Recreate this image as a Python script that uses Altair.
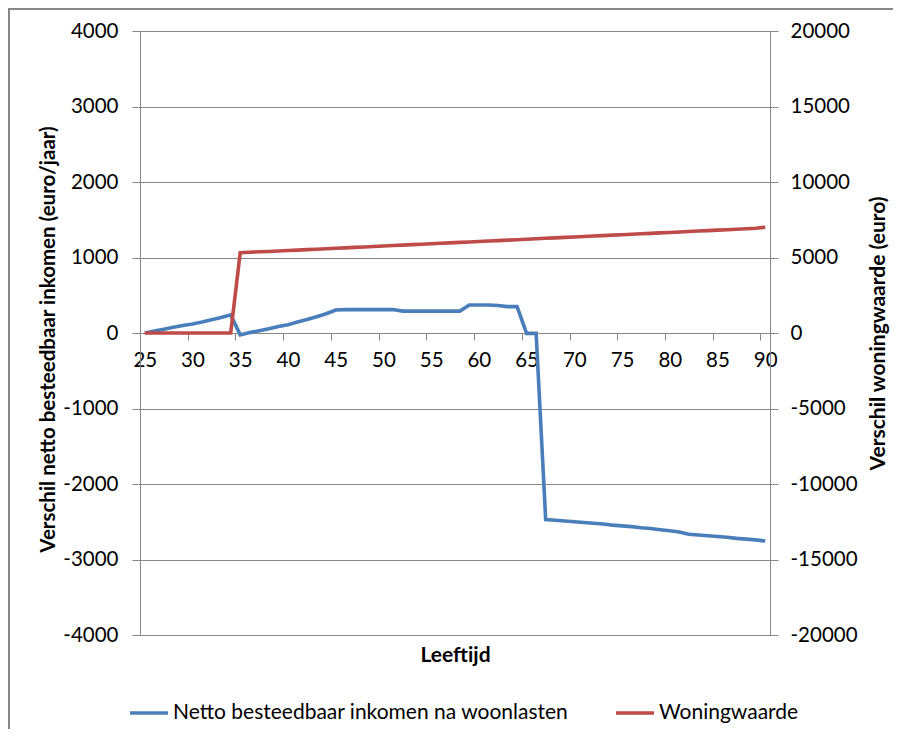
import altair as alt
import pandas as pd

# ---- data ----
ages = list(range(25, 91))

netto = [
    0, 25, 50, 75, 100, 120, 145, 175, 205, 240,          # 25-34
    -25, 5, 30, 55, 85, 110, 145, 180, 215, 255,          # 35-44
    305, 310, 310, 310, 310, 310, 310,                    # 45-51
    290, 290, 290, 290, 290, 290, 290,                    # 52-58
    370, 370, 370, 365, 350, 350,                         # 59-64
    -5, -5,                                               # 65-66
    -2470, -2480, -2490, -2500, -2510, -2520, -2530, -2545,   # 67-74
    -2555, -2565, -2580, -2590, -2605, -2620, -2635, -2665,   # 75-82
    -2675, -2685, -2695, -2705, -2720, -2730, -2740, -2755,   # 83-90
]

woning = [
    0, 0, 0, 0, 0, 0, 0, 0, 0, 0,                          # 25-34
    5320, 5350, 5380, 5400, 5430, 5460, 5490, 5520, 5550, 5580,  # 35-44
    5610, 5640, 5670, 5700, 5730, 5760, 5790, 5820, 5850, 5880,  # 45-54
    5910, 5940, 5970, 6000, 6030, 6060, 6090, 6120, 6150, 6180,  # 55-64
    6210, 6240, 6270, 6300, 6330, 6360, 6390, 6420, 6450, 6480,  # 65-74
    6510, 6540, 6570, 6600, 6630, 6660, 6690, 6720, 6750, 6780,  # 75-84
    6810, 6840, 6870, 6900, 6940, 7000,                          # 85-90
]

series_netto = "Netto besteedbaar inkomen na woonlasten"
series_woning = "Woningwaarde"

left_ticks = list(range(-4000, 4001, 1000))
right_ticks = list(range(-20000, 20001, 5000))
x_labels = list(range(25, 91, 5))

df_n = pd.DataFrame({"age": ages, "value": netto, "series": series_netto})
df_w = pd.DataFrame({"age": ages, "value": woning, "series": series_woning})

# ---- styling ----
FONT = "Lato"
GRAY = "#868686"
BLUE = "#4A7EBB"
RED = "#BE4B48"
W, H = 630, 604
half = W / 66 / 2
LBL = 20.5
TTL = 21
LEG = 21
PLAIN = "toString(datum.value)"

color = alt.Color(
    "series:N",
    scale=alt.Scale(domain=[series_netto, series_woning], range=[BLUE, RED]),
    legend=alt.Legend(
        title=None, orient="none", legendX=-12, legendY=661,
        direction="horizontal", symbolType="stroke", symbolSize=1444,
        symbolStrokeWidth=3.5, labelFont=FONT, labelFontSize=LEG,
        labelColor="black", columnPadding=40, labelOffset=3, labelLimit=600,
    ),
)

x = alt.X(
    "age:Q",
    scale=alt.Scale(domain=[24.5, 90.5], nice=False, zero=False),
    axis=alt.Axis(
        values=x_labels, title="Leeftijd", offset=-H / 2, labelExpr=PLAIN,
        tickOffset=-half, labelOffset=half, tickSize=7, tickColor=GRAY,
        domainColor=GRAY, labelFlush=False, labelFont=FONT, labelFontSize=LBL,
        labelColor="black", labelPadding=10, grid=False,
        titleFont=FONT, titleFontSize=TTL, titleFontWeight="bold",
        titleColor="black", titleX=W / 2, titleY=322,
        titleBaseline="middle", titleAlign="center",
    ),
)

y_left = alt.Y(
    "value:Q",
    scale=alt.Scale(domain=[-4000, 4000], nice=False),
    axis=alt.Axis(
        orient="left", values=left_ticks, labelExpr=PLAIN,
        title="Verschil netto besteedbaar inkomen (euro/jaar)",
        grid=True, gridColor=GRAY, gridWidth=1, domainColor=GRAY,
        tickColor=GRAY, tickSize=8, labelPadding=14, labelFont=FONT,
        labelFontSize=LBL, labelColor="black", titleFont=FONT,
        titleFontSize=20.5, titleFontWeight="bold", titleColor="black",
        titleX=-92, titleY=H / 2 + 6, titleAngle=270, titleBaseline="middle",
        titleAlign="center",
    ),
)

y_right = alt.Y(
    "value:Q",
    scale=alt.Scale(domain=[-20000, 20000], nice=False),
    axis=alt.Axis(
        orient="right", values=right_ticks, labelExpr=PLAIN,
        title="Verschil woningwaarde (euro)",
        grid=False, domainColor=GRAY, tickColor=GRAY, tickSize=8,
        labelPadding=12, labelFont=FONT, labelFontSize=LBL,
        labelColor="black", titleFont=FONT, titleFontSize=TTL,
        titleFontWeight="bold", titleColor="black",
        titleX=108, titleY=H / 2, titleAngle=270, titleBaseline="middle",
        titleAlign="center",
    ),
)

border = alt.Chart(pd.DataFrame({"k": [0]})).mark_rect(
    fill="transparent", stroke=GRAY, strokeWidth=2
).encode(
    x=alt.value(-131), x2=alt.value(W + 300),
    y=alt.value(-22), y2=alt.value(H + 300),
)

blue_line = alt.Chart(df_n).mark_line(strokeWidth=3.6).encode(
    x=x, y=y_left, color=color
)
red_line = alt.Chart(df_w).mark_line(strokeWidth=3.6).encode(
    x=x, y=y_right, color=color
)

chart = (
    alt.layer(blue_line, red_line, border)
    .resolve_scale(y="independent")
    .properties(
        width=W, height=H,
        padding={"left": 132, "top": 23, "right": 123, "bottom": 94},
        autosize=alt.AutoSizeParams(type="none"),
        background="white",
    )
    .configure_view(stroke="transparent")
)

chart.save("out.html", embed_options={"renderer": "svg", "actions": False})
